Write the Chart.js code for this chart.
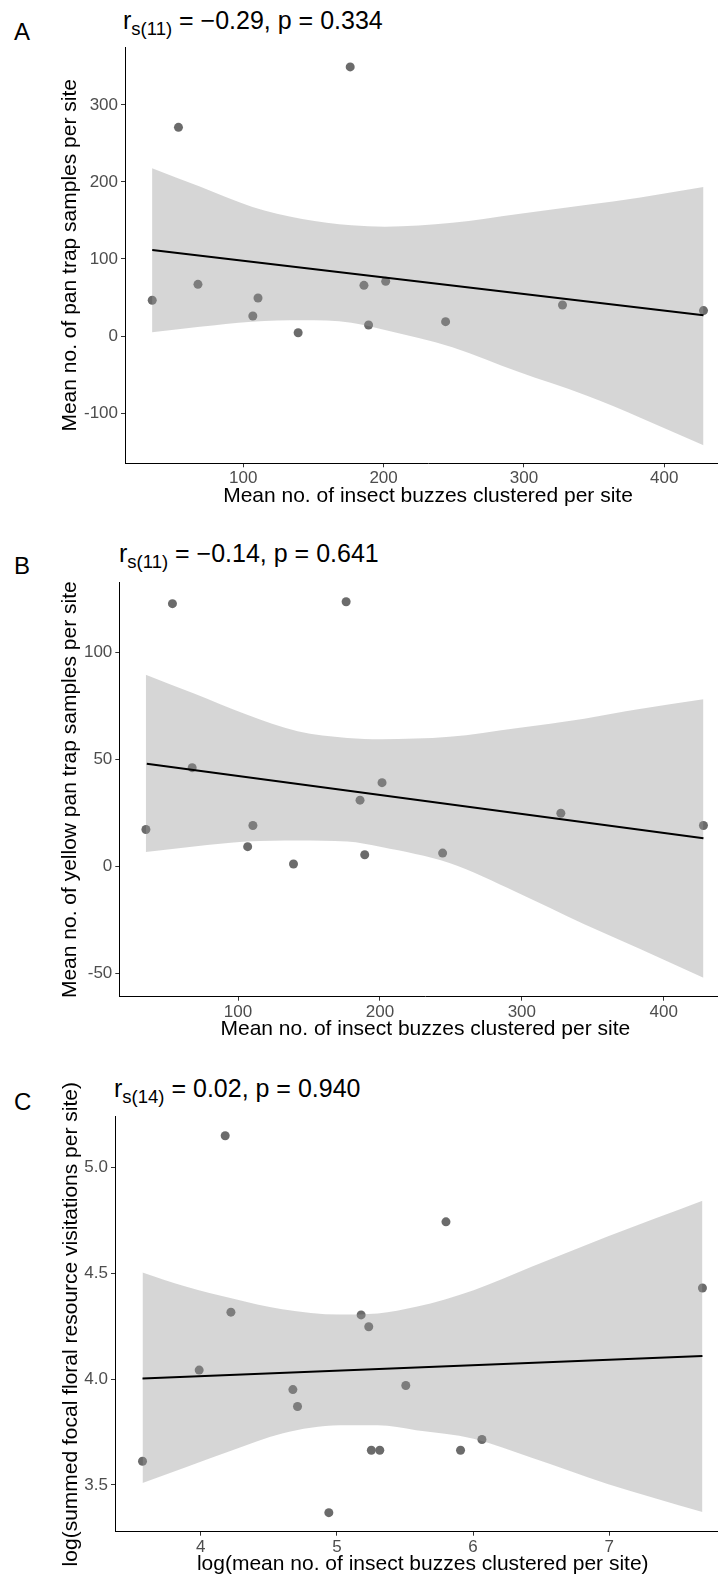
<!DOCTYPE html>
<html>
<head>
<meta charset="utf-8">
<script src="https://cdn.jsdelivr.net/npm/chart.js@4.4.1/dist/chart.umd.min.js"></script>
<style>
  html, body { margin: 0; padding: 0; background: #fff; overflow: hidden; width: 718px; height: 1577px; }
  canvas { position: absolute; left: 0; }
  .lbl { position: absolute; font-family: "Liberation Sans", Arial, sans-serif; color: #000; white-space: nowrap; line-height: 1; }
  .letter { font-size: 24px; left: 14px; }
  .ttl { font-size: 25px; }
  .ttl sub { font-size: 18.5px; vertical-align: -6px; line-height: 0; }
</style>
</head>
<body>

<div class="lbl letter" style="top:20px">A</div>
<div class="lbl ttl" style="top:8px; left:123px">r<sub>s(11)</sub> = &minus;0.29, p = 0.334</div>
<canvas id="chartA" width="740" height="520" style="top:0px"></canvas>

<div class="lbl letter" style="top:554px">B</div>
<div class="lbl ttl" style="top:541px; left:119px">r<sub>s(11)</sub> = &minus;0.14, p = 0.641</div>
<canvas id="chartB" width="740" height="520" style="top:530px"></canvas>

<div class="lbl letter" style="top:1090px">C</div>
<div class="lbl ttl" style="top:1076px; left:114px">r<sub>s(14)</sub> = 0.02, p = 0.940</div>
<canvas id="chartC" width="740" height="530" style="top:1060px"></canvas>

<script>
// ---- data ----

// A & B: mean no. of insect buzzes clustered per site (13 sites)
var buzzes = [35.1, 53.8, 67.7, 106.8, 110.5, 139.1, 176.2, 186, 189.3, 201.5, 244.2, 327.5, 428];
var panTrap = [46.4, 271, 67.1, 26, 49.4, 4.3, 349.4, 65.8, 14.3, 71, 18.6, 40.3, 33];
var yellowPanTrap = [17.2, 122.7, 46.1, 9.2, 19.1, 1.1, 123.6, 30.9, 5.4, 39.1, 6.2, 24.8, 19.1];

// C: log values (16 sites)
var logBuzzes = [3.573, 3.989, 4.18, 4.222, 4.677, 4.711, 4.941, 5.178, 5.234, 5.253, 5.315, 5.506, 5.801, 5.908, 6.065, 7.684];
var logFloral = [3.612, 4.043, 5.151, 4.317, 3.951, 3.871, 3.369, 4.304, 4.248, 3.664, 3.664, 3.970, 4.744, 3.664, 3.715, 4.431];

// fitted lines (end points)
var fitA_x = [35.1, 428], fitA_y = [111.7, 27];
var fitB_x = [35.7, 428], fitB_y = [47.9, 13.1];
var fitC_x = [3.573, 7.684], fitC_y = [4.003, 4.110];

// confidence bands read at a few x positions
var bandAB_x = [35, 69, 106, 142, 177, 201, 249, 296, 344, 383, 428];
var bandA_hi = [217.8, 194, 168, 152, 143.7, 142, 147, 158.4, 170, 180, 193.5];
var bandA_lo = [4.8, 12, 18.6, 20.3, 17.3, 7.8, -14.5, -46.5, -77, -106, -142];
var bandB_hi = [89.5, 80.7, 70.9, 63.1, 60, 59.4, 60.5, 64.5, 69, 73.5, 78];
var bandB_lo = [6.7, 9.3, 11.6, 12.1, 11.6, 9, 1.5, -12, -27, -38.5, -52];
var bandC_x = [3.573, 3.896, 4.233, 4.598, 5.02, 5.301, 5.582, 6.004, 6.425, 6.987, 7.684];
var bandC_hi = [4.505, 4.437, 4.382, 4.331, 4.306, 4.311, 4.342, 4.421, 4.53, 4.675, 4.844];
var bandC_lo = [3.509, 3.585, 3.664, 3.743, 3.782, 3.782, 3.759, 3.719, 3.63, 3.505, 3.372];

// ticks
var ticksAB_x = [100, 200, 300, 400];
var ticksA_y = [-100, 0, 100, 200, 300];
var ticksB_y = [-50, 0, 50, 100];
var ticksC_x = [4, 5, 6, 7];
var ticksC_y = [3.5, 4.0, 4.5, 5.0];
var labelsC_y = ['3.5', '4.0', '4.5', '5.0'];

var FONT = '"Liberation Sans", Arial, sans-serif';

function pairs(xs, ys) {
  return xs.map(function (x, i) { return { x: x, y: ys[i] }; });
}

// one axis (x or y) in the ggplot classic look
function axis(min, max, tickVals, tickLabels, title, isX, size, titlePad) {
  return {
    type: 'linear',
    min: min,
    max: max,
    afterBuildTicks: function (s) { s.ticks = tickVals.map(function (v) { return { value: v }; }); },
    afterFit: function (s) { if (isX) s.height = size; else s.width = size; },
    grid: { display: true, drawOnChartArea: false, drawTicks: true, tickLength: 4, tickColor: '#333', lineWidth: 1 },
    border: { display: true, color: '#000', width: 1 },
    ticks: {
      color: '#4d4d4d',
      font: { family: FONT, size: 17 },
      padding: isX ? 1 : 3,
      maxRotation: 0,
      autoSkip: false,
      callback: function (v, i) { return tickLabels ? tickLabels[i] : String(tickVals[i]); }
    },
    title: {
      display: true,
      text: title,
      color: '#000',
      font: { family: FONT, size: 21 },
      padding: isX ? { top: 0, bottom: titlePad } : { top: titlePad, bottom: 0 }
    }
  };
}

function makePanel(id, p) {
  var ctx = document.getElementById(id).getContext('2d');
  new Chart(ctx, {
    type: 'scatter',
    data: {
      datasets: [
        { // band upper edge, filled down to the lower edge
          type: 'line', data: pairs(p.bandX, p.bandHi), fill: '+1',
          backgroundColor: 'rgba(153,153,153,0.4)', borderColor: 'rgba(0,0,0,0)',
          pointRadius: 0, cubicInterpolationMode: 'monotone', order: 2
        },
        {
          type: 'line', data: pairs(p.bandX, p.bandLo), fill: false,
          borderColor: 'rgba(0,0,0,0)', pointRadius: 0, cubicInterpolationMode: 'monotone', order: 2
        },
        {
          type: 'line', data: pairs(p.fitX, p.fitY), fill: false,
          borderColor: '#000', borderWidth: 2, pointRadius: 0, order: 1
        },
        {
          type: 'scatter', data: pairs(p.x, p.y),
          backgroundColor: '#6b6b6b', borderWidth: 0, pointRadius: 4.5, order: 3
        }
      ]
    },
    options: {
      responsive: false,
      animation: false,
      layout: { padding: { left: 0, top: p.padTop, right: p.padRight, bottom: p.padBottom } },
      plugins: { legend: { display: false }, tooltip: { enabled: false } },
      scales: {
        x: axis(p.xMin, p.xMax, p.xTicks, p.xLabels, p.xTitle, true, 50, 4.4),
        y: axis(p.yMin, p.yMax, p.yTicks, p.yLabels, p.yTitle, false, p.left, p.yTitlePad)
      }
    }
  });
}

makePanel('chartA', {
  x: buzzes, y: panTrap, fitX: fitA_x, fitY: fitA_y,
  bandX: bandAB_x, bandHi: bandA_hi, bandLo: bandA_lo,
  xMin: 15.7, xMax: 447.6, yMin: -165.3, yMax: 374.9,
  xTicks: ticksAB_x, yTicks: ticksA_y,
  xTitle: 'Mean no. of insect buzzes clustered per site',
  yTitle: 'Mean no. of pan trap samples per site',
  left: 125, padTop: 47.3, padRight: 9, padBottom: 6.7, yTitlePad: 57.4
});

makePanel('chartB', {
  x: buzzes, y: yellowPanTrap, fitX: fitB_x, fitY: fitB_y,
  bandX: bandAB_x, bandHi: bandB_hi, bandLo: bandB_lo,
  xMin: 16.35, xMax: 447.7, yMin: -60.9, yMax: 132.5,
  xTicks: ticksAB_x, yTicks: ticksB_y,
  xTitle: 'Mean no. of insect buzzes clustered per site',
  yTitle: 'Mean no. of yellow pan trap samples per site',
  left: 119.3, padTop: 52.7, padRight: 8.6, padBottom: 3.3, yTitlePad: 57.9
});

makePanel('chartC', {
  x: logBuzzes, y: logFloral, fitX: fitC_x, fitY: fitC_y,
  bandX: bandC_x, bandHi: bandC_hi, bandLo: bandC_lo,
  xMin: 3.371, xMax: 7.89, yMin: 3.279, yMax: 5.241,
  xTicks: ticksC_x, yTicks: ticksC_y, yLabels: labelsC_y,
  xTitle: 'log(mean no. of insect buzzes clustered per site)',
  yTitle: 'log(summed focal floral resource visitations per site)',
  left: 115, padTop: 56.7, padRight: 9.5, padBottom: 8.3, yTitlePad: 58.9
});
</script>
</body>
</html>
